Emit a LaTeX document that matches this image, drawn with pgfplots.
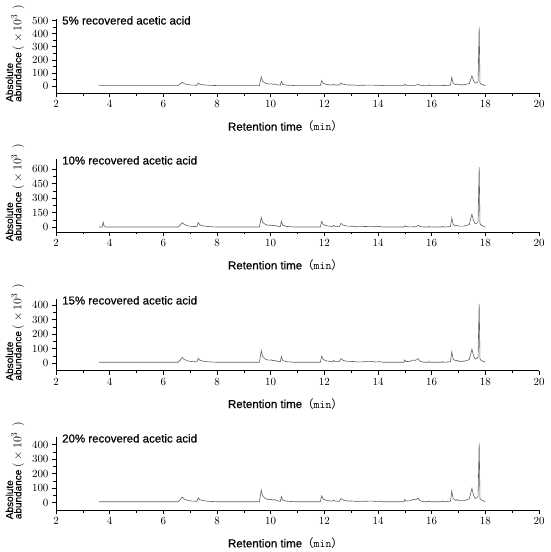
\documentclass[border=0pt]{standalone}
\usepackage{pgfplots}
\pgfplotsset{compat=1.18}
\usepackage{fontspec}
\setmainfont{Liberation Sans}[FakeBold=0.5]
\newfontfamily\cjk{Noto Sans CJK SC}
\definecolor{trace}{RGB}{95,95,95}
\newcommand{\unitpart}{\smash{\fontsize{13}{12}\selectfont\rmfamily\hspace{2pt}$($\hspace{3pt}$\times$\hspace{2pt}$10^{3}$\hspace{5pt}$)$}}
\pgfplotsset{chrom/.style={
  scale only axis, width=483pt,
  xmin=2, xmax=20, xtick={2,4,...,20}, minor x tick num=1, minor y tick num=1,
  axis lines=left, axis line style={-, black, line width=0.6pt},
  tick style={black, line width=0.6pt}, tick align=outside,
  major tick length=4pt, minor tick length=2.5pt,
  ticklabel style={font=\fontsize{10.5}{12}\selectfont},
  clip=false,
  xlabel={Retention time{\cjk （}\texttt{min}{\cjk ）}},
  xlabel style={at={(axis description cs:0.5,0)}, anchor=center, yshift=-33pt, xshift=-12pt, font=\fontsize{11.5}{13}\selectfont},
  ylabel={Absolute\\abundance\unitpart},
  ylabel style={at={(axis description cs:-0.0642,0.54)}, anchor=south, align=left, font=\fontsize{10}{7.2}\selectfont},
}}
\newcommand{\ptitle}[1]{\node[anchor=west, inner sep=0pt, font=\fontsize{11.5}{13}\selectfont] at (rel axis cs:0.0124,0.985) {#1};}
\begin{document}
\begin{tikzpicture}
% Panel 1
\begin{axis}[chrom, at={(56pt,458.7pt)}, anchor=south west, height=74pt,
  ymin=-56, ymax=510, ytick={0,100,...,500}]
\addplot[trace, line width=0.6pt] coordinates {
(3.60,3) (6.55,3) (6.62,13) (6.70,28) (6.78,18) (6.90,10.5) (7.05,6.8) (7.25,5.5) (7.30,23) (7.36,13) (7.50,8) (7.70,5) (8.00,3)
(9.58,3) (9.65,70) (9.70,36.5) (9.80,21.8) (9.92,15) (10.03,16.4) (10.07,12.4) (10.14,15) (10.25,8.4) (10.36,5.7) (10.40,35) (10.45,12.6) (10.60,6.2) (10.90,3)
(11.85,3) (11.90,40) (11.96,19.7) (12.10,10.4) (12.30,6.7) (12.35,14) (12.40,7.4) (12.56,7) (12.62,23) (12.70,13) (12.85,8) (13.10,7) (13.20,4.6) (13.80,7) (13.90,4.6) (14.05,6) (14.20,3)
(14.97,3) (15.00,13) (15.05,6) (15.20,4) (15.30,5) (15.40,4.8) (15.50,13) (15.56,6) (15.70,3) (15.88,3) (15.90,8) (15.95,3) (16.38,3) (16.40,8) (16.45,3)
(16.70,6) (16.75,65) (16.80,21.6) (16.90,10.4) (16.95,15.4) (17.00,9.2) (17.20,9.2) (17.40,18) (17.50,78) (17.56,40.5) (17.62,21.8) (17.68,25.5) (17.73,33) (17.77,450) (17.80,21.8) (17.86,12) (17.95,6.8) (18.00,3)
};
\ptitle{5\% recovered acetic acid}
\end{axis}
% Panel 2
\begin{axis}[chrom, at={(56pt,320pt)}, anchor=south west, height=72.7pt,
  ymin=-48, ymax=700, ytick={0,150,...,600}]
\addplot[trace, line width=0.6pt] coordinates {
(3.60,3) (3.72,3) (3.76,51) (3.79,17) (3.85,3)
(6.55,3) (6.62,21) (6.70,48) (6.78,30) (6.90,16.5) (7.05,9.8) (7.25,7.5) (7.30,48) (7.36,25.5) (7.50,14) (7.70,7.5) (8.00,3)
(9.58,3) (9.65,100) (9.70,51.5) (9.80,30) (9.92,20.5) (10.03,22.4) (10.07,16.6) (10.14,20.5) (10.25,10.8) (10.36,6.9) (10.40,63) (10.45,21) (10.60,9) (10.90,3)
(11.85,3) (11.90,61) (11.96,29) (12.10,14.6) (12.30,8.8) (12.35,20.4) (12.40,10) (12.56,9) (12.62,41) (12.70,22) (12.85,12.5) (13.10,10.6) (13.20,6) (13.80,10.6) (13.90,6) (14.05,8.7) (14.20,3)
(14.97,3) (15.00,17) (15.05,7.2) (15.20,4.2) (15.30,5.8) (15.40,5.4) (15.50,21) (15.56,8.4) (15.70,3) (15.88,3) (15.90,9) (15.95,3) (16.38,3) (16.40,9) (16.45,3)
(16.70,7.6) (16.75,95) (16.80,30.6) (16.90,14) (16.95,21.4) (17.00,12.2) (17.20,12.2) (17.40,29.4) (17.50,135) (17.56,69) (17.62,36) (17.68,42.6) (17.73,55.8) (17.77,623) (17.80,36) (17.86,18.8) (17.95,9.6) (18.00,3)
};
\ptitle{10\% recovered acetic acid}
\end{axis}
% Panel 3
\begin{axis}[chrom, at={(56pt,181.3pt)}, anchor=south west, height=71.4pt,
  ymin=-51, ymax=441, ytick={0,100,...,400}]
\addplot[trace, line width=0.6pt] coordinates {
(3.60,7) (6.55,7) (6.62,20) (6.70,40) (6.78,26.8) (6.90,16.9) (7.05,12) (7.25,9.8) (7.30,35) (7.36,21) (7.50,14) (7.70,9.8) (8.00,7)
(9.58,7) (9.65,87) (9.70,47) (9.80,29.4) (9.92,21.4) (10.03,23) (10.07,18.2) (10.14,21.4) (10.25,13.4) (10.36,10.2) (10.40,47) (10.45,19) (10.60,11) (10.90,7)
(11.85,7) (11.90,49) (11.96,25.9) (12.10,15.4) (12.30,11.2) (12.35,19.6) (12.40,12) (12.56,11.2) (12.62,33) (12.70,20) (12.85,13.5) (13.10,12.2) (13.20,9) (13.80,12.2) (13.90,9) (14.05,11) (14.20,7)
(14.97,7) (15.00,23) (15.05,11.8) (15.20,13.6) (15.30,22.4) (15.40,20.2) (15.50,32) (15.56,14.5) (15.70,7) (15.88,7) (15.90,12) (15.95,7) (16.38,7) (16.40,12) (16.45,7)
(16.70,10.6) (16.75,79) (16.80,28.6) (16.90,15.6) (16.95,21.4) (17.00,14.2) (17.20,14.2) (17.40,25) (17.50,97) (17.56,52) (17.62,29.5) (17.68,34) (17.73,43) (17.77,409) (17.80,29.5) (17.86,17.8) (17.95,11.5) (18.00,7)
};
\ptitle{15\% recovered acetic acid}
\end{axis}
% Panel 4
\begin{axis}[chrom, at={(56pt,42pt)}, anchor=south west, height=72.7pt,
  ymin=-50, ymax=451, ytick={0,100,...,400}]
\addplot[trace, line width=0.6pt] coordinates {
(3.60,7) (6.55,7) (6.62,19.8) (6.70,39) (6.78,26) (6.90,16.6) (7.05,11.8) (7.25,9.7) (7.30,34) (7.36,20.5) (7.50,13.8) (7.70,9.7) (8.00,7)
(9.58,7) (9.65,87) (9.70,47) (9.80,29.4) (9.92,21.4) (10.03,23) (10.07,18.2) (10.14,21.4) (10.25,13.4) (10.36,10.2) (10.40,43) (10.45,17.8) (10.60,10.6) (10.90,7)
(11.85,7) (11.90,47) (11.96,25) (12.10,15) (12.30,11) (12.35,19) (12.40,11.8) (12.56,9.2) (12.62,29) (12.70,18) (12.85,12.5) (13.10,11.4) (13.20,8.8) (13.80,11.4) (13.90,8.8) (14.05,10.3) (14.20,7)
(14.97,7) (15.00,23) (15.05,11.8) (15.20,13.6) (15.30,22.4) (15.40,20.2) (15.50,31) (15.56,14.2) (15.70,7) (15.88,7) (15.90,12) (15.95,7) (16.38,7) (16.40,12) (16.45,7)
(16.70,10.7) (16.75,81) (16.80,29.2) (16.90,15.9) (16.95,21.8) (17.00,14.4) (17.20,14.4) (17.40,25.4) (17.50,99) (17.56,53) (17.62,30) (17.68,34.6) (17.73,43.8) (17.77,411) (17.80,30) (17.86,18) (17.95,11.6) (18.00,7)
};
\ptitle{20\% recovered acetic acid}
\end{axis}
\pgfresetboundingbox
\useasboundingbox (0,0) rectangle (550pt,552pt);
\end{tikzpicture}
\end{document}
